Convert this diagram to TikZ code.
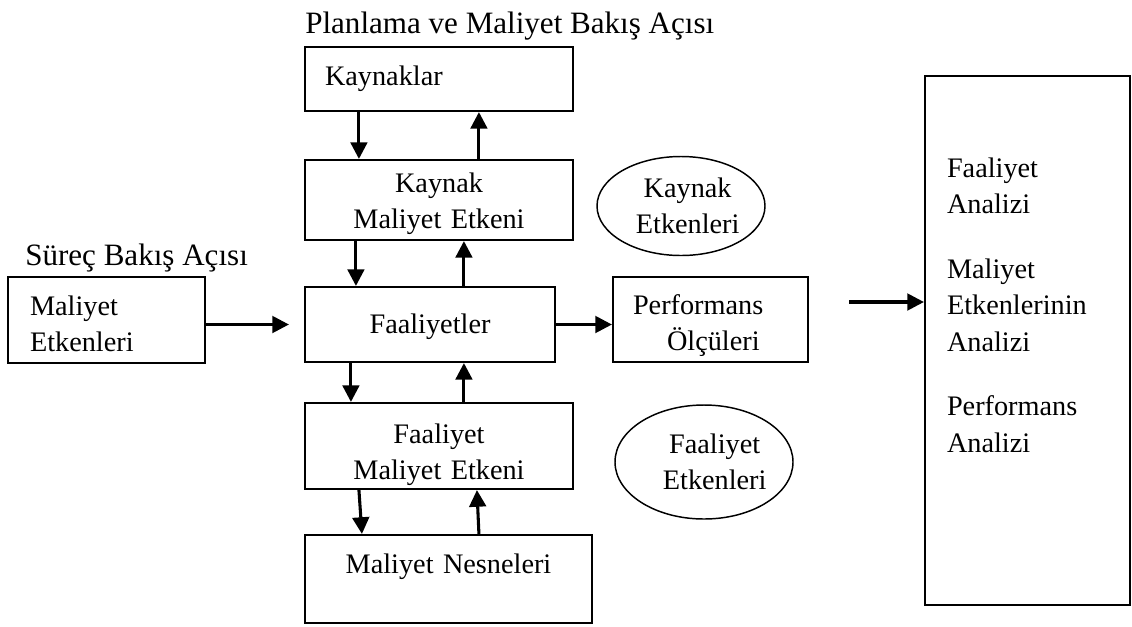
\documentclass[tikz,border=0pt]{standalone}
\usepackage{fontspec}
\setmainfont{Liberation Serif}
\usepackage{xcolor}
\usepackage{tikz}
\usetikzlibrary{calc,arrows.meta,positioning,shapes.geometric}
\definecolor{ink}{HTML}{000000}
\definecolor{paper}{HTML}{FFFFFF}
\newcommand{\txtfont}{\fontsize{21.2}{27.4}\selectfont}
\newcommand{\hdfont}{\fontsize{23.3}{28}\selectfont}
\tikzset{
  box/.style={draw=ink,line width=1.6pt,fill=paper,inner ysep=0pt,font=\txtfont,text=ink},
  oval/.style={ellipse,draw=ink,line width=1.1pt,fill=paper,inner sep=0pt,align=center,font=\txtfont,text=ink},
  head/.style={inner sep=0pt,font=\hdfont,text=ink},
  fl/.style={-{Triangle[length=12.5pt,width=12.5pt]},line width=2.3pt,draw=ink},
  >=Triangle}

\begin{document}
\begin{tikzpicture}[x=0.75pt,y=-0.75pt]
\useasboundingbox (0,0) rectangle (1132,626);

% headings
\node[head,anchor=base west] (plan) at (305,33) {Planlama ve Maliyet Bakış Açısı};
\node[head,anchor=base west] (surec) at (25,265) {Süreç Bakış Açısı};

% planning column
\node[box,align=left,text width=171pt,inner xsep=15pt,text height=28.5pt,text depth=19.5pt]
  (kay) at (439,79) {Kaynaklar};
\node[box,align=center,text width=186pt,inner xsep=7.5pt,text height=24pt,text depth=36pt]
  (kme) at (439,200) {Kaynak\\Maliyet Etkeni};
\node[box,align=center,text width=172.5pt,inner xsep=7.5pt,text height=34.5pt,text depth=21.75pt]
  (faal) at (430,324.5) {Faaliyetler};
\node[box,align=center,text width=186pt,inner xsep=7.5pt,text height=30pt,text depth=34.5pt]
  (fme) at (439,446) {Faaliyet\\Maliyet Etkeni};
\node[box,align=center,text width=200.25pt,inner xsep=7.5pt,text height=28.5pt,text depth=37.5pt]
  (nes) at (448.5,579) {Maliyet Nesneleri};

% process side
\node[box,align=left,text width=114.75pt,inner xsep=16.5pt,text height=28.5pt,text depth=36pt]
  (met) at (106.5,320) {Maliyet\\Etkenleri};
\node[box,align=left,text width=116.25pt,inner xsep=15pt,text height=27.75pt,text depth=36pt]
  (perf) at (710.5,319.5) {Performans\\\hspace*{25.5pt}Ölçüleri};
\node[box,align=left,text width=120.75pt,inner xsep=16.5pt,text height=75.75pt,text depth=321pt]
  (anl) at (1027.5,340.5) {Faaliyet\\Analizi\\[21pt]Maliyet\\Etkenlerinin\\Analizi\\[21pt]Performans\\Analizi};

% drivers
\node[oval,minimum width=126pt,minimum height=74.25pt] (ket) at (681,206)
  {\hspace*{10pt}Kaynak\\\hspace*{10pt}Etkenleri};
\node[oval,minimum width=133.5pt,minimum height=85.5pt] (fet) at (704,462)
  {\hspace*{16pt}Faaliyet\\\hspace*{16pt}Etkenleri};

% vertical flows
\draw[fl] ($(kay.south west)+(55,0)$) -- ($(kme.north west)+(55,0)$);
\draw[fl] ($(kme.north west)+(175,0)$) -- ($(kay.south west)+(175,0)$);
\draw[fl] ($(kme.south west)+(52,0)$) -- ($(faal.north west)+(52,0)$);
\draw[fl] ($(faal.north west)+(160,0)$) -- ($(kme.south west)+(160,0)$);
\draw[fl] ($(faal.south west)+(47,0)$) -- ($(fme.north west)+(47,0)$);
\draw[fl] ($(fme.north west)+(160,0)$) -- ($(faal.south west)+(160,0)$);
\draw[fl] ($(fme.south west)+(55,0)$) -- ($(nes.north west)+(58,0)$);
\draw[fl] ($(nes.north west)+(175,0)$) -- ($(fme.south west)+(173,0)$);

% horizontal flows
\coordinate (faalin) at ($(faal.west)+(-15,0)$);
\coordinate (perfout) at ($(perf.east)+(40,-17.5)$);
\draw[fl] (faal.west -| met.east) -- (faalin);
\draw[fl] (faal.east) -- (faal.east -| perf.west);
\draw[fl] (perfout) -- (perfout -| anl.west);
\end{tikzpicture}
\end{document}
